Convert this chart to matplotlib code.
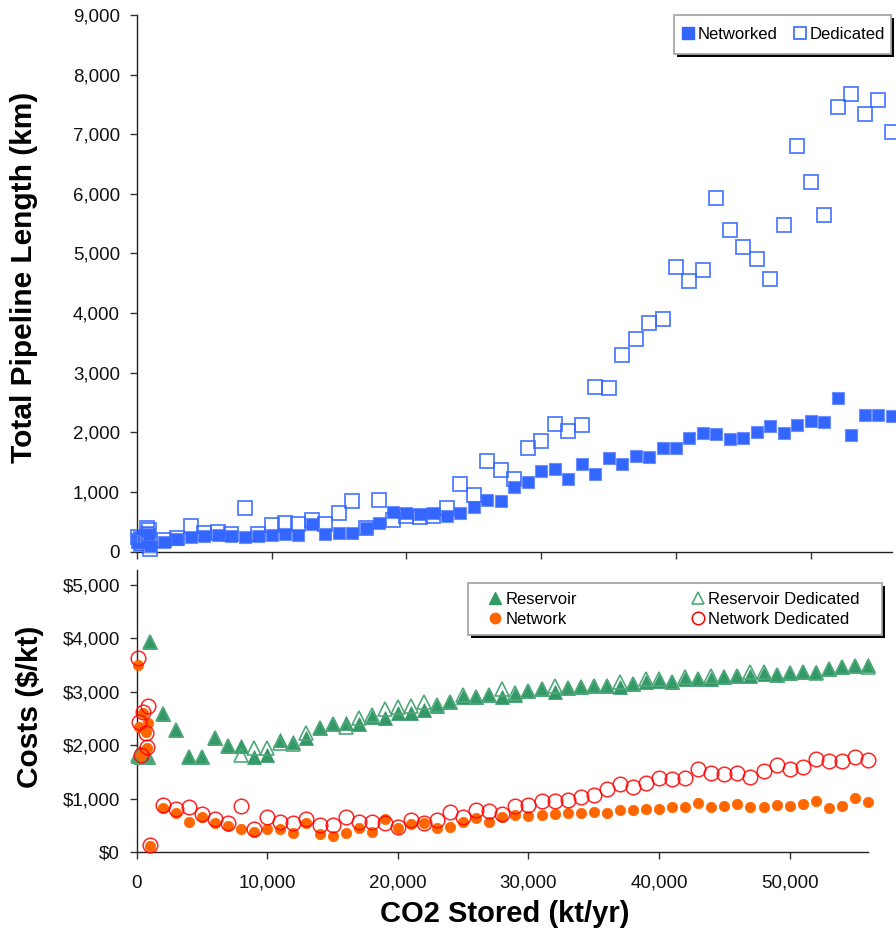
import matplotlib
matplotlib.use("Agg")
import matplotlib.pyplot as plt
from matplotlib.ticker import FuncFormatter
from matplotlib.patches import Rectangle
from matplotlib.lines import Line2D

plt.rcParams['font.family'] = ['Liberation Sans', 'DejaVu Sans']

# CO2 stored per scenario (kt/yr)
co2_stored = [100, 200, 350, 500, 700, 800, 900, 1000,
              2000, 3000, 4000, 5000, 6000, 7000, 8000, 9000, 10000,
              11000, 12000, 13000, 14000, 15000, 16000, 17000, 18000, 19000, 20000,
              21000, 22000, 23000, 24000, 25000, 26000, 27000, 28000, 29000, 30000,
              31000, 32000, 33000, 34000, 35000, 36000, 37000, 38000, 39000, 40000,
              41000, 42000, 43000, 44000, 45000, 46000, 47000, 48000, 49000, 50000,
              51000, 52000, 53000, 54000, 55000, 56000]

# total pipeline length (km)
networked = [170, 110, 140, 160, 210, 330, 290, 100,
             154, 205, 249, 266, 277, 266, 249, 255, 277,
             294, 277, 456, 294, 316, 316, 389, 473, 668, 651,
             629, 651, 596, 651, 752, 864, 847, 1077, 1171, 1356,
             1379, 1216, 1468, 1295, 1574, 1468, 1608, 1591, 1742, 1742,
             1899, 1983, 1971, 1882, 1899, 2000, 2106, 1983, 2122, 2195,
             2178, 2570, 1949, 2290, 2290, 2273]
dedicated = [250, 180, 210, 200, 230, 390, 360, 40,
             193, 221, 428, 305, 322, 294, 724, 294, 445,
             484, 461, 529, 461, 641, 853, 395, 864, 529, 596,
             585, 596, 735, 1133, 948, 1518, 1367, 1211, 1731, 1860,
             2134, 2022, 2122, 2765, 2738, 3297, 3560, 3829, 3896, 4773,
             4539, 4718, 5926, 5394, 5104, 4913, 4577, 5478, 6809, 6205,
             5641, 7453, 7676, 7340, 7575, 7038]

# costs ($/kt)
reservoir = [1800, 1850, 1790, 1820, 1780, 1800, 1780, 3930,
             2580, 2286, 1787, 1787, 2131, 1987, 1980, 1790, 1819,
             2099, 2067, 2131, 2318, 2398, 2423, 2405, 2535, 2505, 2598,
             2610, 2660, 2735, 2815, 2897, 2909, 2940, 2909, 2940, 3021,
             3046, 3002, 3065, 3084, 3115, 3115, 3100, 3146, 3177, 3208,
             3177, 3240, 3240, 3240, 3271, 3302, 3302, 3333, 3320, 3346,
             3364, 3376, 3427, 3458, 3489, 3508]
reservoir_ded = [1820, 1800, 1790, 1840, 1800, 1800, 1790, 3930,
                 2580, 2286, 1787, 1787, 2131, 1987, 1819, 1944, 1944,
                 2049, 2030, 2224, 2318, 2398, 2348, 2516, 2570, 2673, 2722,
                 2735, 2815, 2760, 2815, 2940, 2909, 2940, 3046, 2984, 3021,
                 3046, 3109, 3065, 3084, 3115, 3115, 3177, 3146, 3240, 3240,
                 3177, 3283, 3240, 3300, 3271, 3302, 3364, 3364, 3320, 3346,
                 3364, 3346, 3427, 3458, 3489, 3458]
network = [3500, 2340, 1820, 2600, 2250, 1960, 2420, 125,
           822, 729, 572, 654, 542, 492, 430, 374, 430,
           440, 355, 542, 342, 305, 355, 449, 386, 617, 449,
           529, 542, 449, 479, 572, 636, 572, 666, 697, 679,
           697, 716, 740, 735, 759, 729, 791, 791, 804, 804,
           853, 841, 916, 841, 866, 897, 853, 853, 888, 866,
           897, 965, 835, 866, 1009, 934]
network_ded = [3640, 2440, 1820, 2620, 2235, 1975, 2740, 140,
               884, 804, 841, 716, 617, 554, 871, 430, 666,
               572, 555, 622, 510, 510, 666, 572, 572, 554, 479,
               604, 542, 604, 747, 666, 791, 778, 716, 865, 884,
               965, 965, 978, 1040, 1071, 1177, 1277, 1227, 1301, 1383,
               1364, 1383, 1551, 1489, 1464, 1476, 1402, 1526, 1632, 1551,
               1589, 1738, 1707, 1707, 1788, 1726]

W, H = 896, 930
fig = plt.figure(figsize=(W / 100, H / 100), dpi=100)

def px_axes(x0, y0, x1, y1):
    return fig.add_axes([x0 / W, 1 - y1 / H, (x1 - x0) / W, (y1 - y0) / H])

ax1 = px_axes(136.7, 15, 891.7, 551.5)
ax2 = px_axes(136.7, 570, 868, 852.3)

blue = '#3366FF'
green = '#339966'
orange = '#FF6600'
red = '#FF0000'

ax1.plot(co2_stored, networked, ls='none', marker='s', ms=8, mfc=blue, mec='#6E8FFF',
         mew=0.8, clip_on=False, zorder=3)
ax1.plot(co2_stored, dedicated, ls='none', marker='s', ms=10, mfc='none', mec=blue,
         mew=1.3, alpha=0.85, clip_on=False, zorder=4)

ax2.plot(co2_stored, reservoir, ls='none', marker='^', ms=10, mfc=green, mec=green,
         mew=0.5, clip_on=False, zorder=3)
ax2.plot(co2_stored, reservoir_ded, ls='none', marker='^', ms=10, mfc='none', mec='#4FA87A',
         mew=1.2, clip_on=False, zorder=4)
ax2.plot(co2_stored, network, ls='none', marker='o', ms=7.5, mfc=orange, mec=orange,
         mew=0.5, clip_on=False, zorder=5)
ax2.plot(co2_stored, network_ded, ls='none', marker='o', ms=10.5, mfc='none', mec=red,
         mew=1.1, alpha=0.85, clip_on=False, zorder=6)

xticks = [0, 10000, 20000, 30000, 40000, 50000]
for ax in (ax1, ax2):
    ax.set_xlim(0, 56000)
    ax.set_xticks(xticks)
    for s in ('top', 'right'):
        ax.spines[s].set_visible(False)
    for s in ('left', 'bottom'):
        ax.spines[s].set_color('#222222')
        ax.spines[s].set_linewidth(1.0)
    ax.tick_params(direction='out', length=5, width=1, color='#333333',
                   labelsize=13.5, labelcolor='#111111', pad=7)
    ax.set_facecolor('none')

ax1.set_ylim(0, 9000)
ax1.set_yticks([0, 1000, 2000, 3000, 4000, 5000, 6000, 7000, 8000, 9000])
ax1.yaxis.set_major_formatter(FuncFormatter(lambda v, p: f"{v:,.0f}"))
ax1.tick_params(axis='x', labelbottom=False)

ax2.set_ylim(0, 5280)
ax2.set_yticks([0, 1000, 2000, 3000, 4000, 5000])
ax2.yaxis.set_major_formatter(FuncFormatter(lambda v, p: f"${v:,.0f}"))
ax2.xaxis.set_major_formatter(FuncFormatter(lambda v, p: f"{v:,.0f}"))
ax2.tick_params(axis='x', pad=11)

fig.text(24 / W, 1 - 277 / H, "Total Pipeline Length (km)", rotation=90, ha='center',
         va='center', fontsize=21.5, fontweight='bold')
fig.text(30 / W, 1 - 707 / H, "Costs ($/kt)", rotation=90, ha='center', va='center',
         fontsize=21.5, fontweight='bold')
fig.text(505 / W, 1 - 914 / H, "CO2 Stored (kt/yr)", ha='center', va='center',
         fontsize=21, fontweight='bold')

# legend frames with a drop shadow, drawn in pixels
def legend_frame(x0, y0, x1, y1):
    fig.add_artist(Rectangle(((x0 + 3) / W, 1 - (y1 + 3) / H), (x1 - x0) / W, (y1 - y0) / H,
                             transform=fig.transFigure, fc='black', ec='none', zorder=3))
    fig.add_artist(Rectangle((x0 / W, 1 - y1 / H), (x1 - x0) / W, (y1 - y0) / H,
                             transform=fig.transFigure, fc='white', ec='#A8A8A8', lw=1.3,
                             zorder=4))

legend_frame(674, 15, 891, 54)
legend_frame(468, 583, 882, 635)

h_top = [Line2D([], [], ls='none', marker='s', ms=8, mfc=blue, mec=blue),
         Line2D([], [], ls='none', marker='s', ms=8, mfc='none', mec=blue, mew=1.2)]
fig.legend(h_top, ["Networked", "Dedicated"], ncol=2, loc='center',
           bbox_to_anchor=(784 / W, 1 - 34.5 / H), frameon=False, fontsize=12,
           handlelength=0.6, handletextpad=0.3, columnspacing=1.0, borderpad=0.2)

h_bot = [Line2D([], [], ls='none', marker='^', ms=9, mfc=green, mec=green),
         Line2D([], [], ls='none', marker='o', ms=7.5, mfc=orange, mec=orange),
         Line2D([], [], ls='none', marker='^', ms=9, mfc='none', mec='#4FA87A', mew=1.2),
         Line2D([], [], ls='none', marker='o', ms=9, mfc='none', mec=red, mew=1.1)]
fig.legend(h_bot, ["Reservoir", "Network", "Reservoir Dedicated", "Network Dedicated"],
           ncol=2, loc='center', bbox_to_anchor=(675 / W, 1 - 609 / H), frameon=False,
           fontsize=12, handlelength=0.6, handletextpad=0.3, columnspacing=7.0,
           labelspacing=0.3, borderpad=0.2)

fig.savefig("out.png", dpi=100)
